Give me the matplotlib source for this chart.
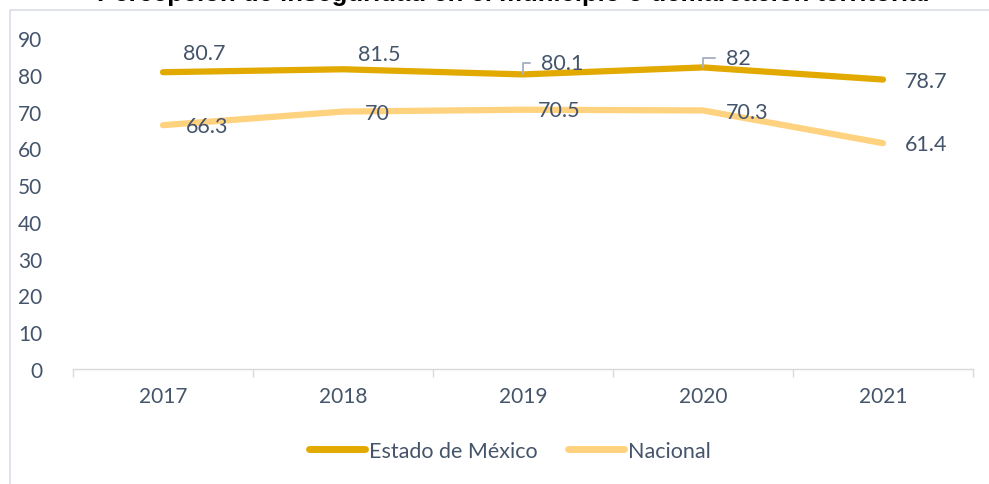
import matplotlib.pyplot as plt
from matplotlib.patches import Rectangle

plt.rcParams['font.family'] = ['Lato', 'DejaVu Sans']

years = ['2017', '2018', '2019', '2020', '2021']
edomex = [80.7, 81.5, 80.1, 82, 78.7]
nacional = [66.3, 70, 70.5, 70.3, 61.4]
y_ticks = [0, 10, 20, 30, 40, 50, 60, 70, 80, 90]
title = 'Percepción de inseguridad en el municipio o demarcación territorial'

text_color = '#44546A'
gold = '#E2AA00'
light_gold = '#FFD27F'
grey = '#D9D9D9'

# label offsets in points (dx, dy) relative to each point
edo_offsets = [(30, 13.7), (26, 11), (28, 8), (25.5, 7), (31, -0.7)]
nac_offsets = [(31.5, -0.7), (24.5, -1.4), (26, 0), (31.5, -1.4), (31, -0.7)]
edo_leader = [False, False, True, True, False]

fig = plt.figure(figsize=(9.89, 4.85), dpi=100)
W, H = 989, 485

# chart frame
fig.patches.append(Rectangle((10 / W, -0.1), 1.2, 1 - 10.5 / H + 0.1,
                             transform=fig.transFigure, fill=False,
                             edgecolor='#D9DDE6', lw=1.2))
fig.text(513 / W, 1 - 1.5 / H, title, ha='center', va='baseline',
         fontsize=18.5, fontweight='bold', family='Liberation Sans', color='black')

ax = fig.add_axes([73 / W, 1 - 370 / H, 900 / W, 331 / H])
x = range(len(years))
ax.plot(x, edomex, color=gold, lw=4.5, solid_capstyle='round', label='Estado de México', zorder=3)
ax.plot(x, nacional, color=light_gold, lw=4.5, solid_capstyle='round', label='Nacional', zorder=2)

for i, v in enumerate(edomex):
    dx, dy = edo_offsets[i]
    props = None
    if edo_leader[i]:
        props = dict(arrowstyle='-', color='#A9B3C2', lw=1.4,
                     connectionstyle='angle,angleA=0,angleB=90,rad=0',
                     shrinkA=6, shrinkB=0)
    ax.annotate(f'{v:g}', (i, v), xytext=(dx, dy), textcoords='offset points',
                ha='center', va='center', fontsize=15.5, color=text_color,
                arrowprops=props, zorder=5)
for i, v in enumerate(nacional):
    dx, dy = nac_offsets[i]
    ax.annotate(f'{v:g}', (i, v), xytext=(dx, dy), textcoords='offset points',
                ha='center', va='center', fontsize=15.5, color=text_color, zorder=5)

ax.set_xlim(-0.5, len(years) - 0.5)
ax.set_ylim(0, 90)
ax.set_yticks(y_ticks)
ax.set_xticks(list(x))
ax.set_xticklabels(years)
ax.set_xticks([i - 0.5 for i in range(len(years) + 1)], minor=True)
ax.tick_params(axis='y', length=0, pad=22, labelsize=15, labelcolor=text_color)
ax.tick_params(axis='x', which='major', length=0, pad=12, labelsize=15, labelcolor=text_color)
ax.tick_params(axis='x', which='minor', length=6, color=grey, width=1)
for s in ['top', 'right', 'left']:
    ax.spines[s].set_visible(False)
ax.spines['bottom'].set_color(grey)
ax.spines['bottom'].set_linewidth(1)

leg = ax.legend(loc='center', bbox_to_anchor=(510 / W, 1 - 452 / H),
                bbox_transform=fig.transFigure, ncol=2, frameon=False,
                fontsize=15.5, handlelength=2.6, handletextpad=0.2,
                columnspacing=1.4)
for line in leg.get_lines():
    line.set_linewidth(5)
    line.set_solid_capstyle('round')
for t in leg.get_texts():
    t.set_color(text_color)

fig.savefig('out.png', dpi=100)
